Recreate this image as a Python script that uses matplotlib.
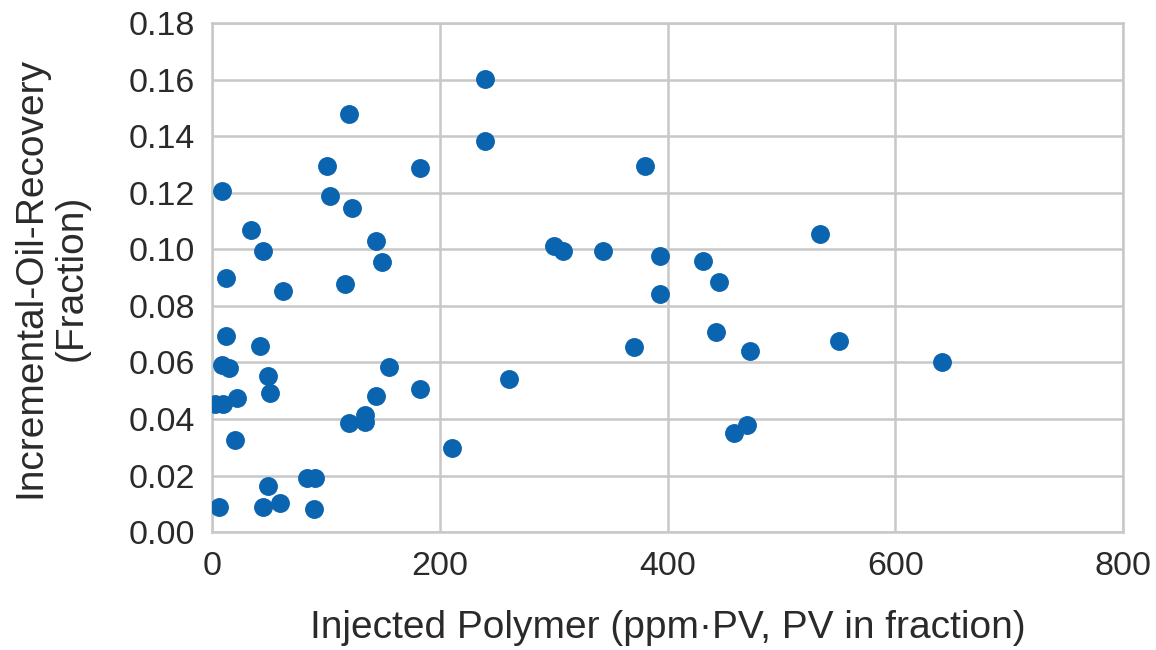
import matplotlib.pyplot as plt
import numpy as np

# Injected polymer (ppm*PV) vs incremental oil recovery (fraction)
injected_polymer = [9.1, 12, 12, 8.5, 15.2, 2.6, 10, 22.3, 20.2, 6.4,
                    34, 45.1, 42.5, 49.5, 51, 49.5, 45.1, 59.8, 62.1, 83.2,
                    90.5, 89.7, 100.8, 103.7, 120.4, 123, 117.2, 143.9, 149, 155,
                    143.9, 134.5, 134, 120, 182.9, 182.3, 210.7, 240, 240, 260.5,
                    300, 308, 343.4, 379.8, 370.4, 393.8, 393.8, 431, 445.1, 442.2,
                    458.3, 470, 472.4, 534, 550.6, 640.9]
oil_recovery = [0.1207, 0.090, 0.0695, 0.0591, 0.058, 0.0452, 0.0452, 0.0475, 0.0326, 0.009,
                0.1068, 0.0996, 0.0658, 0.0552, 0.0493, 0.0163, 0.009, 0.0104, 0.0854, 0.0192,
                0.0192, 0.008, 0.1297, 0.119, 0.148, 0.1145, 0.0878, 0.103, 0.0956, 0.0583,
                0.0481, 0.0414, 0.039, 0.0385, 0.1287, 0.0505, 0.0296, 0.1602, 0.1385, 0.0542,
                0.1012, 0.0996, 0.0996, 0.1296, 0.0654, 0.0978, 0.0842, 0.0958, 0.0884, 0.0709,
                0.0352, 0.0379, 0.0642, 0.1055, 0.0677, 0.0603]

x_ticks = [0, 200, 400, 600, 800]
y_ticks = np.arange(0, 0.181, 0.02)

plt.rcParams['font.family'] = ['Liberation Sans', 'DejaVu Sans']

fig = plt.figure(figsize=(11.56, 6.5), dpi=100)
ax = fig.add_axes([0.1834, 0.1815, 0.7881, 0.7825])

ax.scatter(injected_polymer, oil_recovery, s=185, color='#0b64b0', zorder=3, linewidths=0)

ax.set_xlim(0, 800)
ax.set_ylim(0, 0.18)
ax.set_xticks(x_ticks)
ax.set_yticks(y_ticks)
ax.set_yticklabels([f'{v:.2f}' for v in y_ticks])
ax.grid(True, color='#c8c8c8', linewidth=1.8)
ax.set_axisbelow(True)
for s in ax.spines.values():
    s.set_color('#c8c8c8')
    s.set_linewidth(1.8)
ax.tick_params(length=0, labelsize=24.5, colors='#2a2a2a')
ax.tick_params(axis='y', pad=12)
ax.tick_params(axis='x', pad=14)

ax.set_xlabel('Injected Polymer (ppm·PV, PV in fraction)', fontsize=28, color='#2a2a2a', labelpad=20)
ax.set_ylabel('Incremental-Oil-Recovery\n(Fraction)', fontsize=28, color='#2a2a2a', labelpad=28)

fig.savefig('out.png', dpi=100)
